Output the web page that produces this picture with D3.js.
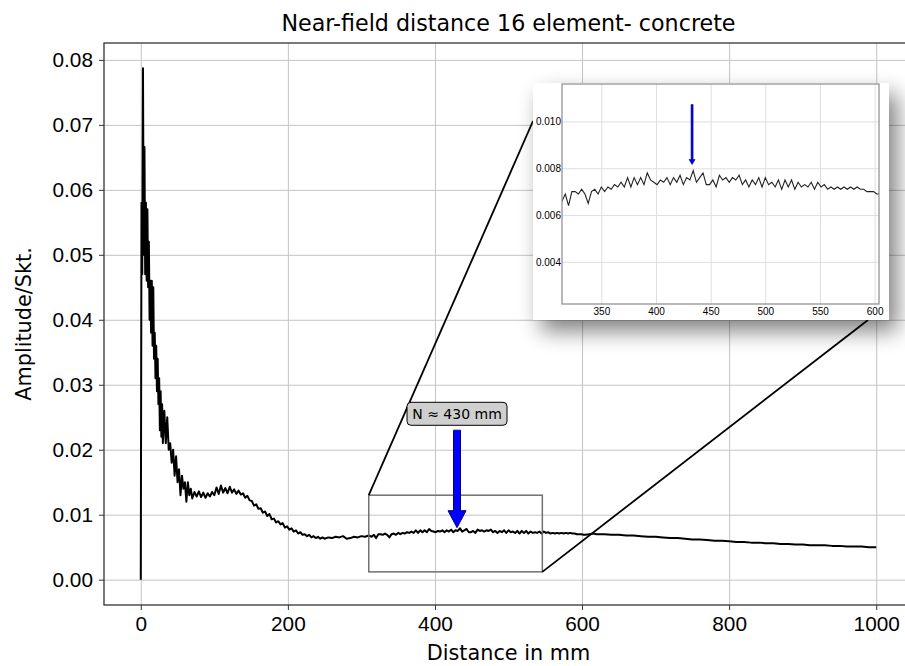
<!DOCTYPE html>
<html>
<head>
<meta charset="utf-8">
<script src="https://cdn.jsdelivr.net/npm/d3@7"></script>
<style>
  body { margin: 0; background: #fff; }
  svg { font-family: "DejaVu Sans", sans-serif; display: block; }
  .axis text { fill: #000; }
  .grid line { stroke: #c4c4c4; stroke-width: 1; }
  .grid path { display: none; }
  .inset-grid line { stroke: #dedede; stroke-width: 1; }
  .inset-grid path { display: none; }
</style>
</head>
<body>
<svg id="chart"></svg>
<script>
// ---- Data (distance in mm, amplitude in Skt.) ----
const nearDist = [0, 1, 2, 3, 4, 5, 6, 7, 8, 9, 10, 11, 12, 13, 14, 15, 16, 17, 18, 19,
  20, 21, 22, 23, 24, 25, 26, 27, 28, 29, 30, 32, 34, 36, 38, 40, 42, 44, 46, 48,
  50, 52, 54, 56, 58, 60, 62, 64, 66, 68, 70, 73, 76, 79, 82, 85, 88, 91, 94, 97,
  100, 103, 106, 109, 112, 115, 118, 121, 124, 127, 130, 133, 136, 139, 142, 145, 148, 151, 154, 157,
  160, 163, 166, 169, 172, 175, 178, 181, 184, 187, 190, 193, 196, 199, 202, 205, 208, 211, 214, 217,
  220, 223, 226, 229, 232, 235, 238, 241, 244, 247, 250, 255, 260, 265, 270, 275, 280, 285, 290, 295,
  300, 305, 310];
const nearAmp = [0, 0.058, 0.047, 0.0787, 0.050, 0.0666, 0.047, 0.058, 0.046, 0.057, 0.045, 0.052, 0.040, 0.046, 0.038, 0.046, 0.036, 0.045, 0.034, 0.038,
  0.031, 0.036, 0.029, 0.034, 0.027, 0.031, 0.023, 0.029, 0.022, 0.027, 0.021, 0.026, 0.021, 0.025, 0.020, 0.021, 0.018, 0.020, 0.016, 0.019,
  0.015, 0.017, 0.013, 0.016, 0.014, 0.015, 0.012, 0.015, 0.013, 0.014, 0.0125, 0.0135, 0.0128, 0.0136, 0.0127, 0.0134, 0.0126, 0.0133, 0.0128, 0.0135,
  0.0130, 0.0142, 0.0132, 0.0145, 0.0134, 0.0141, 0.0133, 0.0143, 0.0134, 0.0139, 0.0132, 0.0137, 0.0131, 0.0133, 0.0126, 0.0129, 0.0122, 0.0121, 0.0114, 0.0116,
  0.0109, 0.0110, 0.0103, 0.0105, 0.0098, 0.0101, 0.0093, 0.0094, 0.0088, 0.0090, 0.0085, 0.0087, 0.0080, 0.0082, 0.0077, 0.0079, 0.0074, 0.0076, 0.0071, 0.0073,
  0.0069, 0.0070, 0.0067, 0.0069, 0.0065, 0.0067, 0.0064, 0.0066, 0.0063, 0.0065, 0.0063, 0.0065, 0.0064, 0.0066, 0.0065, 0.0067, 0.0063, 0.0064, 0.0066, 0.0065,
  0.0067, 0.0066, 0.0068];

// zoomed section (shown in the inset)
const midDist = [314, 317, 320, 323, 326, 329, 332, 335, 338, 341, 344, 347, 350, 353, 356, 359, 362, 365, 368, 371,
  374, 377, 380, 383, 386, 389, 392, 395, 398, 401, 404, 407, 410, 413, 416, 419, 422, 425, 428, 431,
  434, 437, 440, 443, 446, 449, 452, 455, 458, 461, 464, 467, 470, 473, 476, 479, 482, 485, 488, 491,
  494, 497, 500, 503, 506, 509, 512, 515, 518, 521, 524, 527, 530, 533, 536, 539, 542, 545, 548, 551,
  554, 557, 560, 563, 566, 569, 572, 575, 578, 581, 584, 587, 590, 593, 596, 599, 602, 605];
const midAmp = [0.0066, 0.0069, 0.0064, 0.0070, 0.0070, 0.0069, 0.0071, 0.0069, 0.0065, 0.0070, 0.0071, 0.0069, 0.0072, 0.0070, 0.0072, 0.0071, 0.0073, 0.0072, 0.0074, 0.0072,
  0.0076, 0.0072, 0.0076, 0.0073, 0.0076, 0.0073, 0.0078, 0.0075, 0.0074, 0.0073, 0.0075, 0.0074, 0.0076, 0.0073, 0.0076, 0.0074, 0.0077, 0.0073, 0.0076, 0.0075,
  0.0079, 0.0074, 0.0076, 0.0078, 0.0073, 0.0073, 0.0075, 0.0072, 0.0077, 0.0075, 0.0076, 0.0074, 0.0076, 0.0075, 0.0077, 0.0073, 0.0075, 0.0072, 0.0075, 0.0073,
  0.0076, 0.0072, 0.0076, 0.0073, 0.0074, 0.0072, 0.0075, 0.0071, 0.0075, 0.0072, 0.0075, 0.0071, 0.0074, 0.0072, 0.0073, 0.0072, 0.0074, 0.0071, 0.0074, 0.0072,
  0.0073, 0.0071, 0.0072, 0.0071, 0.0072, 0.0071, 0.0072, 0.0071, 0.0072, 0.0071, 0.0072, 0.0071, 0.0071, 0.0070, 0.0070, 0.0070, 0.0069, 0.0069];

const farDist = [610, 615, 620, 630, 640, 650, 660, 670, 680, 690, 700, 710, 720, 730, 740, 750, 760, 770, 780, 790,
  800, 810, 820, 830, 840, 850, 860, 870, 880, 890, 900, 910, 920, 930, 940, 950, 960, 970, 980, 990, 1000];
const farAmp = [0.0070, 0.0071, 0.0070, 0.0070, 0.0069, 0.0069, 0.0068, 0.0068, 0.0067, 0.0066, 0.0066, 0.0065, 0.0064, 0.0064, 0.0063, 0.0062, 0.0062, 0.0061, 0.0060, 0.0060,
  0.0059, 0.0058, 0.0058, 0.0057, 0.0057, 0.0056, 0.0056, 0.0055, 0.0055, 0.0054, 0.0054, 0.0053, 0.0053, 0.0053, 0.0052, 0.0052, 0.0051, 0.0051, 0.0051, 0.0050, 0.0050];

const xTicks = [0, 200, 400, 600, 800, 1000];
const yTicks = [0, 0.01, 0.02, 0.03, 0.04, 0.05, 0.06, 0.07, 0.08];
const insetXTicks = [350, 400, 450, 500, 550, 600];
const insetYTicks = [0.004, 0.006, 0.008, 0.010];

// zoom box on the main axes: [x0, x1], [y0, y1]
const zoomBoxX = [310, 546];
const zoomBoxY = [0.0012, 0.0130];

// annotation
const nearFieldMm = 430;
const nearFieldLabel = 'N \u2248 430 mm';
const insetArrowMm = 433;

const titleText = 'Near-field distance 16 element- concrete';
const xLabel = 'Distance in mm';
const yLabel = 'Amplitude/Skt.';

// ---- Layout ----
const width = 905, height = 666;
const plot = { left: 104, right: 913, top: 43, bottom: 605 };
const inset = { left: 562, right: 879, top: 84, bottom: 304 };
const insetBg = { left: 533, right: 889, top: 83, bottom: 320 };

const data = d3.zip(
  nearDist.concat(midDist, farDist),
  nearAmp.concat(midAmp, farAmp)
).map(([d, a]) => ({ d, a }));

const svg = d3.select('#chart')
  .attr('width', width)
  .attr('height', height);

const defs = svg.append('defs');

// soft drop shadow behind the inset
const shadow = defs.append('filter')
  .attr('id', 'shadow')
  .attr('x', '-20%').attr('y', '-25%')
  .attr('width', '150%').attr('height', '170%');
shadow.append('feGaussianBlur').attr('in', 'SourceAlpha').attr('stdDeviation', 11);
shadow.append('feOffset').attr('dx', 8).attr('dy', 11).attr('result', 'off');
shadow.append('feComponentTransfer').append('feFuncA').attr('type', 'linear').attr('slope', 0.5);
const merge = shadow.append('feMerge');
merge.append('feMergeNode');
merge.append('feMergeNode').attr('in', 'SourceGraphic');

defs.append('clipPath').attr('id', 'insetClip')
  .append('rect')
  .attr('x', inset.left).attr('y', inset.top)
  .attr('width', inset.right - inset.left)
  .attr('height', inset.bottom - inset.top);

// ---- Main scales ----
const x = d3.scaleLinear().domain([-50, 1050]).range([plot.left, plot.right]);
const y = d3.scaleLinear().domain([-0.0039, 0.0826]).range([plot.bottom, plot.top]);

// grid
svg.append('g')
  .attr('class', 'grid')
  .attr('transform', `translate(0,${plot.bottom})`)
  .call(d3.axisBottom(x).tickValues(xTicks).tickSize(-(plot.bottom - plot.top)).tickFormat(''));
svg.append('g')
  .attr('class', 'grid')
  .attr('transform', `translate(${plot.left},0)`)
  .call(d3.axisLeft(y).tickValues(yTicks).tickSize(-(plot.right - plot.left)).tickFormat(''));

// main curve
const line = d3.line().x(p => x(p.d)).y(p => y(p.a));
svg.append('path')
  .datum(data)
  .attr('fill', 'none')
  .attr('stroke', '#000')
  .attr('stroke-width', 2)
  .attr('stroke-linejoin', 'round')
  .attr('d', line);

// zoom rectangle
svg.append('rect')
  .attr('x', x(zoomBoxX[0]))
  .attr('y', y(zoomBoxY[1]))
  .attr('width', x(zoomBoxX[1]) - x(zoomBoxX[0]))
  .attr('height', y(zoomBoxY[0]) - y(zoomBoxY[1]))
  .attr('fill', 'none')
  .attr('stroke', '#707070')
  .attr('stroke-width', 1.5);

// connector lines from the zoom box to the inset
svg.append('line')
  .attr('x1', x(zoomBoxX[0])).attr('y1', y(zoomBoxY[1]))
  .attr('x2', insetBg.left).attr('y2', 121)
  .attr('stroke', '#000').attr('stroke-width', 1.8);
svg.append('line')
  .attr('x1', x(zoomBoxX[1])).attr('y1', y(zoomBoxY[0]))
  .attr('x2', 868).attr('y2', insetBg.bottom)
  .attr('stroke', '#000').attr('stroke-width', 1.8);

// annotation: label box and big arrow
const ax = x(nearFieldMm);
const label = svg.append('g');
label.append('rect')
  .attr('x', ax - 50).attr('y', y(0.0273))
  .attr('width', 100).attr('height', 23)
  .attr('rx', 4)
  .attr('fill', '#cfcfcf')
  .attr('stroke', '#000')
  .attr('stroke-width', 1);
label.append('text')
  .attr('x', ax).attr('y', y(0.0273) + 16.5)
  .attr('text-anchor', 'middle')
  .style('font-size', '14px')
  .text(nearFieldLabel);

const arrowTop = y(0.0230), arrowTip = y(0.0080);
const shaftW = 3.5, headW = 9, headL = 17;
svg.append('path')
  .attr('d', `M${ax - shaftW},${arrowTop} L${ax + shaftW},${arrowTop} L${ax + shaftW},${arrowTip - headL}
    L${ax + headW},${arrowTip - headL} L${ax},${arrowTip} L${ax - headW},${arrowTip - headL}
    L${ax - shaftW},${arrowTip - headL} Z`)
  .attr('fill', '#0000ff')
  .attr('stroke', '#000080')
  .attr('stroke-width', 1);

// main axes
const xAxisG = svg.append('g')
  .attr('class', 'axis')
  .attr('transform', `translate(0,${plot.bottom})`)
  .call(d3.axisBottom(x).tickValues(xTicks).tickSize(5).tickPadding(6).tickFormat(d3.format('d')));
const yAxisG = svg.append('g')
  .attr('class', 'axis')
  .attr('transform', `translate(${plot.left},0)`)
  .call(d3.axisLeft(y).tickValues(yTicks).tickSize(5).tickPadding(6).tickFormat(d3.format('.2f')));
[xAxisG, yAxisG].forEach(g => {
  g.selectAll('text').style('font-size', '20.8px');
  g.selectAll('line').attr('stroke', '#333');
  g.select('.domain').remove();
});

// frame
svg.append('rect')
  .attr('x', plot.left).attr('y', plot.top)
  .attr('width', plot.right - plot.left)
  .attr('height', plot.bottom - plot.top)
  .attr('fill', 'none')
  .attr('stroke', '#333')
  .attr('stroke-width', 1.3);

// titles
svg.append('text')
  .attr('x', (plot.left + plot.right) / 2).attr('y', 31)
  .attr('text-anchor', 'middle')
  .style('font-size', '22.2px')
  .text(titleText);
svg.append('text')
  .attr('x', (plot.left + plot.right) / 2).attr('y', 660)
  .attr('text-anchor', 'middle')
  .style('font-size', '20.8px')
  .text(xLabel);
svg.append('text')
  .attr('transform', `translate(31,${(plot.top + plot.bottom) / 2}) rotate(-90)`)
  .attr('text-anchor', 'middle')
  .style('font-size', '20.8px')
  .text(yLabel);

// ---- Inset ----
const insetG = svg.append('g');
insetG.append('rect')
  .attr('x', insetBg.left).attr('y', insetBg.top)
  .attr('width', insetBg.right - insetBg.left)
  .attr('height', insetBg.bottom - insetBg.top)
  .attr('fill', '#fff')
  .attr('filter', 'url(#shadow)');

const ix = d3.scaleLinear().domain([314, 604]).range([inset.left, inset.right]);
const iy = d3.scaleLinear().domain([0.0022, 0.0116]).range([inset.bottom, inset.top]);

insetG.append('g')
  .attr('class', 'inset-grid')
  .attr('transform', `translate(0,${inset.bottom})`)
  .call(d3.axisBottom(ix).tickValues(insetXTicks).tickSize(-(inset.bottom - inset.top)).tickFormat(''));
insetG.append('g')
  .attr('class', 'inset-grid')
  .attr('transform', `translate(${inset.left},0)`)
  .call(d3.axisLeft(iy).tickValues(insetYTicks).tickSize(-(inset.right - inset.left)).tickFormat(''));

const insetLine = d3.line().x(p => ix(p.d)).y(p => iy(p.a));
insetG.append('path')
  .datum(data.filter(p => p.d >= 300 && p.d <= 615))
  .attr('clip-path', 'url(#insetClip)')
  .attr('fill', 'none')
  .attr('stroke', '#222')
  .attr('stroke-width', 1.1)
  .attr('d', insetLine);

// small arrow in the inset
const iax = ix(insetArrowMm);
const iTop = iy(0.01072), iTip = iy(0.00816);
insetG.append('path')
  .attr('d', `M${iax - 1},${iTop} L${iax + 1},${iTop} L${iax + 1},${iTip - 5} L${iax + 3},${iTip - 5}
    L${iax},${iTip} L${iax - 3},${iTip - 5} L${iax - 1},${iTip - 5} Z`)
  .attr('fill', '#0000ee')
  .attr('stroke', '#000080')
  .attr('stroke-width', 0.6);

const ixAxis = insetG.append('g')
  .attr('class', 'axis')
  .attr('transform', `translate(0,${inset.bottom})`)
  .call(d3.axisBottom(ix).tickValues(insetXTicks).tickSize(0).tickPadding(4).tickFormat(d3.format('d')));
const iyAxis = insetG.append('g')
  .attr('class', 'axis')
  .attr('transform', `translate(${inset.left},0)`)
  .call(d3.axisLeft(iy).tickValues(insetYTicks).tickSize(0).tickPadding(1).tickFormat(d3.format('.3f')));
[ixAxis, iyAxis].forEach(g => {
  g.selectAll('text').style('font-size', '10px');
  g.select('.domain').remove();
});

insetG.append('rect')
  .attr('x', inset.left).attr('y', inset.top)
  .attr('width', inset.right - inset.left)
  .attr('height', inset.bottom - inset.top)
  .attr('fill', 'none')
  .attr('stroke', '#8a8a8a')
  .attr('stroke-width', 1.2);
</script>
</body>
</html>
